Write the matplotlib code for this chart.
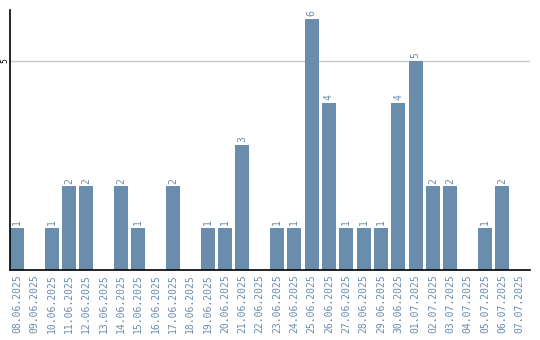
import matplotlib
matplotlib.use("Agg")
import matplotlib.pyplot as plt
import numpy as np

dates = ['08.06.2025', '09.06.2025', '10.06.2025', '11.06.2025', '12.06.2025',
         '13.06.2025', '14.06.2025', '15.06.2025', '16.06.2025', '17.06.2025',
         '18.06.2025', '19.06.2025', '20.06.2025', '21.06.2025', '22.06.2025',
         '23.06.2025', '24.06.2025', '25.06.2025', '26.06.2025', '27.06.2025',
         '28.06.2025', '29.06.2025', '30.06.2025', '01.07.2025', '02.07.2025',
         '03.07.2025', '04.07.2025', '05.07.2025', '06.07.2025', '07.07.2025']
counts = [1, 0, 1, 2, 2, 0, 2, 1, 0, 2, 0, 1, 1, 3, 0,
          1, 1, 6, 4, 1, 1, 1, 4, 5, 2, 2, 0, 1, 2, 0]

bar_color = '#6a8cad'
label_color = '#6a8cad'

fig = plt.figure(figsize=(5.4, 3.4), dpi=100)
ax = fig.add_axes([10 / 540, 70 / 340, 520 / 540, 260 / 340])

x = np.arange(len(dates))
bars = ax.bar(x, counts, width=0.8, align='edge', color=bar_color, zorder=2)

# labels only for non-zero bars
labels = [str(c) if c > 0 else '' for c in counts]
ax.bar_label(bars, labels=labels, rotation=90, padding=2, color=label_color,
             fontsize=7, family='DejaVu Sans Mono')

ax.set_xlim(0, len(dates))
ax.set_ylim(0, 6.22)

ax.set_xticks(x + 0.4)
ax.set_xticklabels(dates, rotation=90, color=label_color, fontsize=7,
                   family='DejaVu Sans Mono', va='top')
ax.set_yticks([5])
ax.set_yticklabels(['5'], rotation=90, fontsize=5.5, va='center')
ax.tick_params(axis='both', length=0, pad=3)
ax.tick_params(axis='y', pad=0.5)

ax.yaxis.grid(True, color='#c8c8c8', linewidth=1, zorder=0)

ax.spines['top'].set_visible(False)
ax.spines['right'].set_visible(False)
ax.spines['left'].set_linewidth(1.2)
ax.spines['bottom'].set_linewidth(1.2)

fig.savefig('out.png', dpi=100)
